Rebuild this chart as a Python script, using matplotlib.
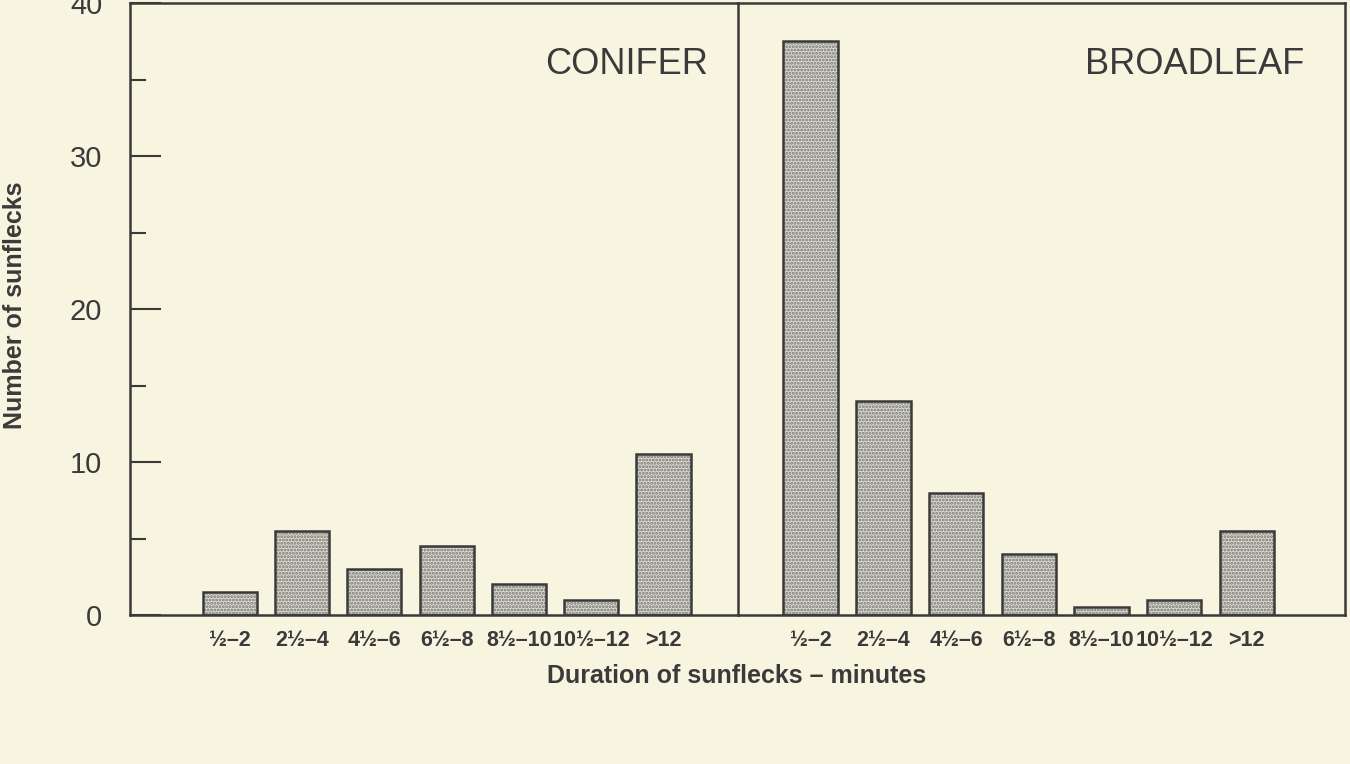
import numpy as np
import matplotlib
matplotlib.use('Agg')
import matplotlib.pyplot as plt
from matplotlib.ticker import FixedLocator

# ---- data ----
categories = ['½–2', '2½–4', '4½–6', '6½–8', '8½–10', '10½–12', '>12']
conifer = [1.5, 5.5, 3, 4.5, 2, 1, 10.5]
broadleaf = [37.5, 14, 8, 4, 0.5, 1, 5.5]
panel_titles = ['CONIFER', 'BROADLEAF']
y_major = [0, 10, 20, 30, 40]
y_minor = [5, 15, 25, 35]
y_label = 'Number of sunflecks'
x_label = 'Duration of sunflecks – minutes'

plt.rcParams['font.family'] = ['Liberation Sans', 'DejaVu Sans']
plt.rcParams['hatch.linewidth'] = 1.4

bg = '#f7f5df'
ink = '#3a3a3a'
bar_face = '#dadad2'
dot = '#76766f'

W, H = 1350, 764
fig = plt.figure(figsize=(13.5, 7.64), dpi=100, facecolor=bg)


def rect(l, r, t, b):
    return [l / W, 1 - b / H, (r - l) / W, (b - t) / H]


ax1 = fig.add_axes(rect(130, 738, 3, 615))
ax2 = fig.add_axes(rect(738, 1345, 3, 615))

x = np.arange(len(categories))
for ax, vals in ((ax1, conifer), (ax2, broadleaf)):
    ax.patch.set_visible(False)
    ax.bar(x, vals, width=0.75, color=bar_face, edgecolor=dot, linewidth=0,
           hatch='.....', zorder=2)
    ax.bar(x, vals, width=0.75, fill=False, edgecolor=ink, linewidth=1.8,
           zorder=3)
    ax.set_ylim(0, 40)
    ax.set_xticks(x)
    ax.set_xticklabels(categories, fontsize=15.5, color=ink, fontweight='bold')
    ax.tick_params(axis='x', length=0, pad=11)
    for s in ax.spines.values():
        s.set_color(ink)
        s.set_linewidth(1.8)

ax1.set_xlim(-1.38, 7.03)
ax2.set_xlim(-1.0, 7.35)
ax2.spines['left'].set_visible(False)

ax1.yaxis.set_major_locator(FixedLocator(y_major))
ax1.yaxis.set_minor_locator(FixedLocator(y_minor))
ax1.tick_params(axis='y', which='major', direction='in', length=22, width=1.5,
                color=ink, labelsize=21, labelcolor=ink, pad=20)
ax1.tick_params(axis='y', which='minor', direction='in', length=11.5, width=1.5,
                color=ink)
ax2.tick_params(axis='y', which='both', left=False, labelleft=False)

ax1.text(0.816, 0.899, panel_titles[0], transform=ax1.transAxes,
         ha='center', va='center', fontsize=26, color=ink)
ax2.text(0.753, 0.899, panel_titles[1], transform=ax2.transAxes,
         ha='center', va='center', fontsize=26, color=ink)

fig.text(15 / W, 1 - 305 / H, y_label, rotation=90, ha='center', va='center',
         fontsize=18, color=ink, fontweight='bold')
fig.text(737 / W, 1 - 676 / H, x_label, ha='center', va='center',
         fontsize=18, color=ink, fontweight='bold')

fig.savefig('out.png', dpi=100, facecolor=bg)
